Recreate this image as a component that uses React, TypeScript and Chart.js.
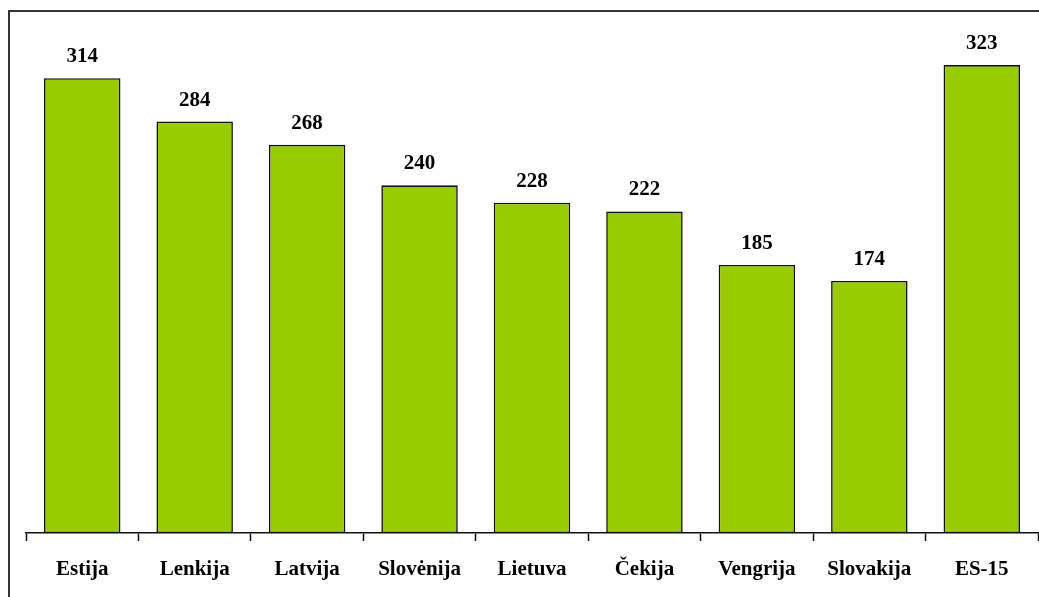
import React, { useEffect, useRef } from "react";
import { Chart, registerables } from "chart.js";

Chart.register(...registerables);

const categories = ["Estija", "Lenkija", "Latvija", "Slovėnija", "Lietuva", "Čekija", "Vengrija", "Slovakija", "ES-15"];
const values = [314, 284, 268, 240, 228, 222, 185, 174, 323];

const FONT = "'Liberation Serif', 'Times New Roman', serif";

const valueLabels = {
  id: "valueLabels",
  afterDatasetsDraw(chart: any) {
    const ctx = chart.ctx;
    const meta = chart.getDatasetMeta(0);
    ctx.save();
    ctx.font = `bold 21px ${FONT}`;
    ctx.fillStyle = "#000";
    ctx.textAlign = "center";
    ctx.textBaseline = "alphabetic";
    meta.data.forEach((bar: any, i: number) => {
      ctx.fillText(String(values[i]), bar.x, bar.y - 16);
    });
    ctx.restore();
  },
};

const frame = {
  id: "frame",
  afterDraw(chart: any) {
    const ctx = chart.ctx;
    ctx.save();
    ctx.strokeStyle = "#333";
    ctx.lineWidth = 2;
    ctx.beginPath();
    ctx.moveTo(9, chart.height);
    ctx.lineTo(9, 11);
    ctx.lineTo(chart.width, 11);
    ctx.stroke();
    ctx.restore();
  },
};

export default function App() {
  const ref = useRef<HTMLCanvasElement>(null);
  useEffect(() => {
    if (!ref.current) return;
    const chart = new Chart(ref.current, {
      type: "bar",
      data: {
        labels: categories,
        datasets: [
          {
            data: values,
            backgroundColor: "#99CC00",
            borderColor: "#111",
            borderWidth: 1.6,
            borderSkipped: false,
            categoryPercentage: 1,
            barPercentage: 0.68,
          },
        ],
      },
      options: {
        animation: false,
        responsive: false,
        maintainAspectRatio: false,
        layout: { padding: { top: 26, left: 26, right: 1, bottom: 0 } },
        plugins: { legend: { display: false }, tooltip: { enabled: false } },
        scales: {
          x: {
            afterFit(scale: any) {
              scale.height = 64;
            },
            grid: {
              display: true,
              drawOnChartArea: false,
              drawTicks: true,
              tickLength: 8,
              tickWidth: 1.5,
              color: "#111",
              offset: true,
            },
            border: { display: true, color: "#111", width: 1.5 },
            ticks: {
              color: "#000",
              padding: 16,
              font: { family: FONT, size: 21, weight: "bold" },
              maxRotation: 0,
              autoSkip: false,
            },
          },
          y: {
            display: false,
            min: 0,
            max: 350,
          },
        },
      },
      plugins: [valueLabels, frame],
    });
    return () => chart.destroy();
  }, []);
  return (
    <div style={{ position: "fixed", left: 0, top: 0, width: 1039, height: 597, background: "#fff" }}>
      <canvas ref={ref} width={1039} height={597} style={{ display: "block" }} />
    </div>
  );
}
